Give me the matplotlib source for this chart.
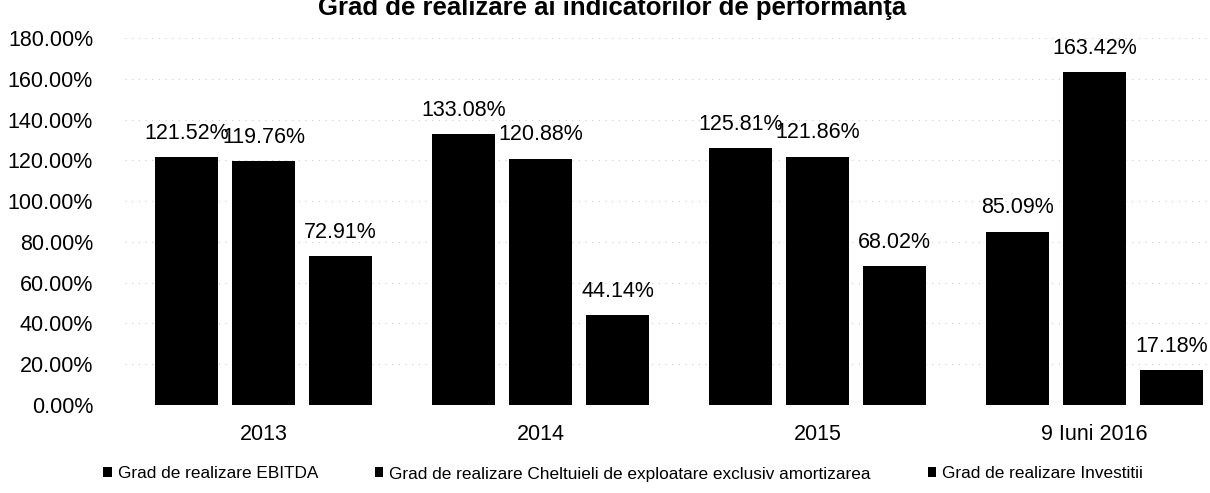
import numpy as np
import matplotlib
matplotlib.use('Agg')
import matplotlib.pyplot as plt
from matplotlib.patches import Patch
from matplotlib.ticker import FuncFormatter

plt.rcParams['font.family'] = ['Liberation Sans', 'DejaVu Sans']

#data
categories = ['2013', '2014', '2015', '9 Iuni 2016']
ebitda = [121.52, 133.08, 125.81, 85.09]
cheltuieli = [119.76, 120.88, 121.86, 163.42]
investitii = [72.91, 44.14, 68.02, 17.18]

series_names = ['Grad de realizare EBITDA',
                'Grad de realizare Cheltuieli de exploatare exclusiv amortizarea',
                'Grad de realizare Investitii']

title = 'Grad de realizare ai indicatorilor de performanţa'

W, H = 1210, 493
fig = plt.figure(figsize=(W/100, H/100), dpi=100)

#axes placed in pixel terms of the original
left_px, base_px, top_px = 125, 405, 38
ax = fig.add_axes([left_px/W, (H-base_px)/H, (W-left_px)/W, (base_px-top_px)/H])

x = np.arange(len(categories))
step = 0.278
width = 0.227

for i, vals in enumerate([ebitda, cheltuieli, investitii]):
    pos = x + (i-1)*step
    ax.bar(pos, vals, width, color='black', zorder=3)
    for p, v in zip(pos, vals):
        ax.annotate('%.2f%%' % v, (p, v), xytext=(0, 17), textcoords='offset points',
                    ha='center', va='center', fontsize=15.5)

ax.set_xlim(-0.5, -0.5 + (W-left_px)/277.0)
ax.set_ylim(0, 180)
ax.set_yticks(np.arange(0, 181, 20))
ax.yaxis.set_major_formatter(FuncFormatter(lambda v, _: '%.2f%%' % v))
ax.set_xticks(x)
ax.set_xticklabels(categories)

ax.tick_params(axis='y', length=0, pad=23, labelsize=15.5)
ax.tick_params(axis='x', length=0, pad=14, labelsize=15.5)

for s in ax.spines.values():
    s.set_visible(False)

ax.yaxis.grid(True, color='#cccccc', linestyle=(0, (1, 5)), linewidth=0.8, zorder=0)

#title, partly cut at the top like in the scan
fig.text(318/W, 1 - 15/H, title, ha='left', va='baseline',
         fontsize=18.5, fontweight='bold')

handles = [Patch(facecolor='black') for _ in series_names]
fig.legend(handles, series_names, ncol=3, loc='center left',
           bbox_to_anchor=(103/W, 1 - 474/H), frameon=False, fontsize=12.4,
           handlelength=0.5, handleheight=0.5, handletextpad=0.35,
           columnspacing=3.3, borderaxespad=0, borderpad=0)

fig.savefig('out.png', dpi=100)
